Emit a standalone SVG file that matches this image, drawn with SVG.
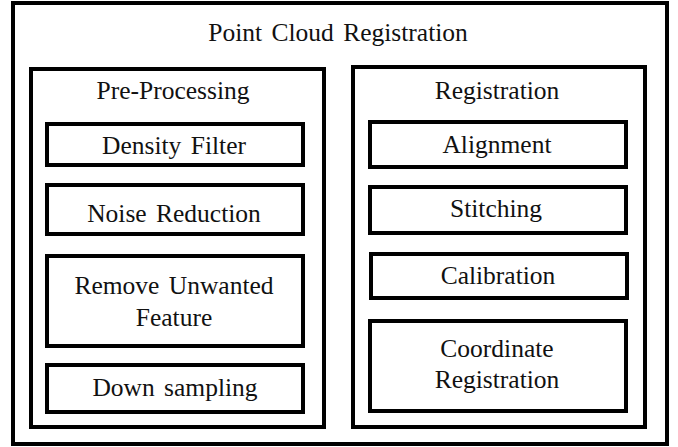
<svg xmlns="http://www.w3.org/2000/svg" width="678" height="447" viewBox="0 0 678 447">
<style>
.box{fill:#fff;stroke:#000;stroke-width:4}
.t{font-family:'Liberation Serif','Times New Roman',serif;font-size:25.5px;word-spacing:3px;fill:#111;text-anchor:middle}
</style>
<rect width="678" height="447" fill="#fff"/>
<g id="outer"><rect class="box" x="13" y="3" width="654" height="441"/><text class="t" x="338" y="41">Point Cloud Registration</text></g>
<g id="preprocessing"><rect class="box" x="31" y="69" width="293" height="358"/><text class="t" x="173" y="99">Pre-Processing</text></g>
<g id="registration"><rect class="box" x="353" y="67" width="292" height="360"/><text class="t" x="497" y="99">Registration</text></g>
<g id="density"><rect class="box" x="47" y="124" width="256" height="41"/><text class="t" x="174" y="154">Density Filter</text></g>
<g id="noise"><rect class="box" x="47" y="185" width="256" height="49"/><text class="t" x="174" y="222">Noise Reduction</text></g>
<g id="remove"><rect class="box" x="47" y="256" width="256" height="90"/><text class="t" x="174" y="294">Remove Unwanted</text><text class="t" x="174" y="326">Feature</text></g>
<g id="downsampling"><rect class="box" x="47" y="365" width="256" height="47"/><text class="t" x="175" y="396">Down sampling</text></g>
<g id="alignment"><rect class="box" x="370" y="122" width="256" height="45"/><text class="t" x="497" y="153">Alignment</text></g>
<g id="stitching"><rect class="box" x="370" y="187" width="256" height="46"/><text class="t" x="496" y="217">Stitching</text></g>
<g id="calibration"><rect class="box" x="371" y="254" width="256" height="44"/><text class="t" x="498" y="284">Calibration</text></g>
<g id="coordinate"><rect class="box" x="370" y="321" width="256" height="90"/><text class="t" x="497" y="357">Coordinate</text><text class="t" x="497" y="388">Registration</text></g>
<g id="connectors"></g>
</svg>
